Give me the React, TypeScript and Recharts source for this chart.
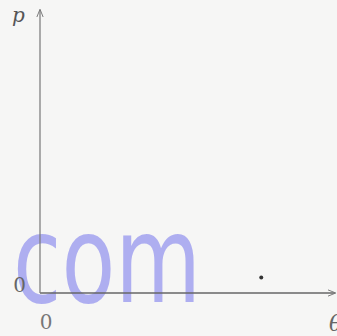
import React from 'react';
import { ScatterChart, Scatter, XAxis, YAxis, Customized } from 'recharts';

const xTicks = [0];
const yTicks = [0];
const points = [{ x: 7.5, y: 0.55 }];
const xAxisName = 'θ';
const yAxisName = 'p';
const watermark = 'com';

const Overlay = (props: any) => {
  const off = props.offset || { left: 40, top: 10, width: 295, height: 283 };
  const left = off.left;
  const top = off.top;
  const bottom = off.top + off.height;
  const right = off.left + off.width;
  return (
    <g>
      <text x={left - 28} y={top + 12} fontFamily="DejaVu Serif, serif" fontStyle="italic" fontSize={20} fill="#555">{yAxisName}</text>
      <text x={right - 6} y={bottom + 38} fontFamily="DejaVu Serif, serif" fontStyle="italic" fontSize={22} fill="#666">{xAxisName}</text>
      <text x={left - 27} y={bottom + 9} textLength={188} lengthAdjust="spacingAndGlyphs" fontFamily="DejaVu Sans, sans-serif" fontSize={122} fill="#a6a6f0" fillOpacity={0.9}>{watermark}</text>
    </g>
  );
};

export default function App() {
  return (
    <div style={{ position: 'absolute', left: 0, top: 0, width: 337, height: 336, background: '#f6f6f5' }}>
      <ScatterChart width={337} height={336} margin={{ top: 10, right: 2, left: 0, bottom: 0 }}>
        <defs>
          <marker id="arr" viewBox="0 0 10 10" refX="9" refY="5" markerWidth="8" markerHeight="8" orient="auto-start-reverse" markerUnits="userSpaceOnUse">
            <path d="M0,1 L10,5 L0,9" fill="none" stroke="#777" strokeWidth={1.2} />
          </marker>
        </defs>
        <Customized component={Overlay} />
        <XAxis type="number" dataKey="x" domain={[0, 10]} ticks={xTicks} height={43}
          axisLine={{ stroke: '#666', strokeWidth: 1.5, markerEnd: 'url(#arr)' }} tickLine={false}
          tick={{ fill: '#777', fontSize: 20, fontFamily: 'DejaVu Serif, serif', dx: 6, dy: 14 }} />
        <YAxis type="number" dataKey="y" domain={[0, 10]} ticks={yTicks} width={40}
          axisLine={{ stroke: '#777', strokeWidth: 1.2, markerStart: 'url(#arr)' }} tickLine={false}
          tick={{ fill: '#666', fontSize: 20, fontFamily: 'DejaVu Serif, serif', dx: -6, dy: -8 }} />
        <Scatter data={points} fill="#333" isAnimationActive={false} shape={(p: any) => <circle cx={p.cx} cy={p.cy} r={2} fill="#333" />} />
      </ScatterChart>
    </div>
  );
}
